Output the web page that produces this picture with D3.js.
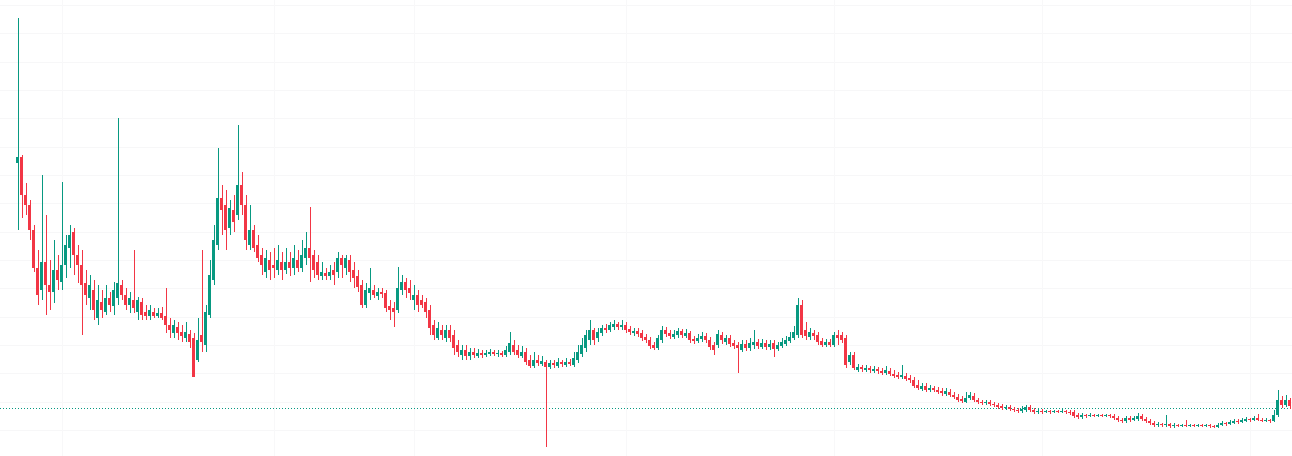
<!DOCTYPE html>
<html>
<head>
<meta charset="utf-8">
<script src="https://cdn.jsdelivr.net/npm/d3@7"></script>
<style>
  html, body { margin: 0; padding: 0; background: #ffffff; }
  svg { display: block; }
</style>
</head>
<body>
<script>
// Candle prices (arbitrary unit, x1e-6)
const opens = [337,343,305,295,270,232,210,238,215,208,230,218,235,252,268,245,235,217,202,210,182,198,188,202,194,202,215,205,195,200,188,198,188,184,188,184,187,184,175,167,173,168,162,166,162,140,165,155,185,220,255,302,295,272,290,285,315,295,255,270,255,245,228,240,235,230,238,230,238,232,240,232,242,252,245,238,224,227,224,230,228,242,232,240,230,224,215,195,207,210,204,208,207,194,192,190,210,218,212,200,205,200,198,190,175,162,170,162,170,165,155,145,150,144,148,144,147,145,146,148,146,147,145,148,155,150,144,148,140,134,140,136,138,133,137,134,138,135,138,135,140,146,152,160,170,162,167,172,170,173,176,173,175,171,167,169,167,163,160,155,152,160,170,167,163,165,169,164,167,161,159,161,164,160,155,155,165,158,162,157,155,150,156,152,155,158,153,157,153,157,151,154,156,159,162,165,195,170,163,167,165,159,155,158,155,165,165,162,138,145,130,133,130,132,129,131,129,127,129,126,125,123,124,122,120,115,111,114,110,112,110,109,106,108,105,103,101,98,102,104,100,98,97,98,96,95,94,92,93,91,90,89,90,93,90,88,89,88,89,88,89,88,89,88,88,85,83,85,84,85,84,85,84,85,84,82,80,79,82,80,81,84,81,79,77,75,76,75,76,74,75,74,75,74,75,74,75,74,75,74,73,75,77,76,77,79,78,79,81,80,82,80,79,80,79,85,100,95,100];
const highs = [482,345,317,300,275,250,325,285,240,260,245,318,265,275,272,255,250,230,225,220,215,210,215,208,218,382,220,212,208,250,203,202,195,195,192,192,193,212,182,180,178,175,178,170,167,182,250,195,240,275,352,315,310,300,305,375,328,305,295,275,265,252,250,248,252,255,248,252,248,255,250,260,268,293,250,245,238,232,235,238,248,245,245,245,238,230,220,217,232,215,212,212,210,200,198,233,225,222,220,215,210,205,202,195,180,178,175,175,175,170,160,155,155,152,152,151,150,150,151,150,150,149,154,168,160,155,154,152,145,148,145,144,140,140,140,142,140,142,141,148,155,162,170,180,172,172,175,176,178,180,178,180,178,174,172,172,170,166,163,158,165,174,173,170,170,172,171,171,169,164,166,168,167,163,158,170,168,165,165,160,158,160,160,162,170,161,161,160,160,160,158,162,164,168,174,202,200,178,172,170,168,162,161,161,168,170,168,165,148,148,136,135,135,134,134,133,132,134,132,130,128,135,127,125,123,120,117,117,115,114,113,112,112,111,108,106,104,108,108,107,102,100,100,100,98,97,96,95,95,93,92,94,95,95,92,91,91,90,90,90,90,91,90,90,90,87,87,86,87,86,86,86,86,86,86,84,82,84,84,84,87,86,83,81,79,78,77,85,77,77,76,76,80,76,76,76,76,76,76,75,77,79,78,80,81,81,82,83,82,84,86,82,82,81,90,110,104,105,102];
const lows = [270,282,285,260,228,195,200,185,190,197,210,210,222,232,225,217,165,195,190,180,175,182,185,188,185,195,200,190,187,187,180,180,180,180,182,182,180,167,162,162,160,158,158,152,123,138,148,148,182,215,250,265,250,265,268,280,285,250,250,248,238,225,222,220,222,225,220,226,224,225,228,228,235,218,222,220,220,220,220,215,222,222,225,218,212,208,192,192,200,202,200,202,188,180,173,187,205,202,200,190,188,192,182,165,160,160,160,158,158,145,143,140,140,140,142,142,142,143,144,144,143,143,143,145,145,142,142,135,132,132,134,134,53,131,132,132,133,133,134,133,137,143,148,155,155,158,164,167,168,170,170,170,167,165,164,163,159,157,151,150,150,157,163,161,161,162,162,162,157,156,157,158,157,150,145,152,156,155,153,151,127,148,149,149,151,151,151,150,150,143,149,152,154,157,160,162,162,160,160,160,155,153,153,153,153,155,157,132,135,130,128,128,128,127,127,126,125,125,124,122,121,121,119,117,112,110,109,108,108,108,106,104,104,103,101,98,97,97,100,98,96,95,95,94,93,91,90,90,89,88,87,87,88,88,86,86,86,87,86,87,87,87,86,85,82,81,81,82,83,83,83,83,83,82,80,78,77,77,78,79,79,79,77,75,73,73,73,73,72,72,73,73,73,73,73,73,73,73,72,72,72,74,74,75,76,76,77,78,78,79,79,78,78,77,78,83,92,93,91];
const closes = [343,305,295,270,232,205,238,215,208,230,220,235,255,265,245,235,215,205,215,190,200,190,202,195,210,217,205,195,202,192,200,185,184,190,184,187,182,175,170,175,167,164,168,158,123,160,158,188,225,260,302,290,270,292,278,315,295,260,270,252,242,235,242,230,232,240,230,238,232,242,232,245,252,242,230,225,228,224,228,225,242,235,242,228,222,213,195,210,212,205,208,206,192,190,188,212,218,210,207,205,195,195,188,172,165,172,165,170,162,152,148,150,144,148,145,147,145,147,148,146,147,145,150,157,148,145,148,138,134,140,137,139,133,137,135,138,136,138,136,142,148,155,165,170,160,168,172,170,175,176,173,175,170,168,169,166,162,160,154,152,162,170,166,164,166,169,165,167,160,159,162,164,160,153,150,166,160,162,156,154,152,156,152,157,158,154,157,153,156,151,155,158,160,163,168,195,165,164,168,164,158,155,158,155,165,162,160,135,145,132,133,131,132,130,131,129,127,130,126,124,123,125,121,120,114,112,114,110,112,110,108,107,109,105,103,100,99,102,105,100,98,97,98,96,95,93,92,93,91,90,89,91,93,90,88,89,88,89,88,89,88,89,88,87,84,83,85,84,85,84,85,84,85,84,82,80,79,82,80,82,84,81,79,77,75,76,75,76,74,75,74,75,74,75,74,75,74,75,74,73,75,77,76,78,79,78,80,81,80,82,80,79,80,79,85,100,95,100,94];

// Faint grid levels (price) and grid candle positions (index)
const gridPrices = [495,467,438,410,382,353,325,297,268,240,212,183,155,127,98,70];
const gridIndex = [11,64,99,152,204,256,308];
const refPrice = 92;

const W = 1292, H = 456;
const upColor = "#089981", downColor = "#f23645";

const svg = d3.select("body").append("svg").attr("width", W).attr("height", H);

const idx = d3.range(closes.length);
const x = d3.scaleBand().domain(idx).range([16, 16 + closes.length * 4]).paddingInner(0.25).paddingOuter(0.125);
const y = d3.scaleLinear().domain([44, 500]).range([H, 0]);

// grid
svg.append("g").selectAll("line").data(gridPrices).join("line")
  .attr("x1", 0).attr("x2", W)
  .attr("y1", d => Math.round(y(d)) + 0.5).attr("y2", d => Math.round(y(d)) + 0.5)
  .attr("stroke", "#f7f7f8").attr("stroke-width", 1);
svg.append("g").selectAll("line").data(gridIndex).join("line")
  .attr("y1", 0).attr("y2", H)
  .attr("x1", d => Math.round(x(d) + x.bandwidth() / 2) + 0.5)
  .attr("x2", d => Math.round(x(d) + x.bandwidth() / 2) + 0.5)
  .attr("stroke", "#f8f8f9").attr("stroke-width", 1);

// reference dotted line
svg.append("line")
  .attr("x1", 0).attr("x2", W)
  .attr("y1", Math.round(y(refPrice)) + 0.5).attr("y2", Math.round(y(refPrice)) + 0.5)
  .attr("stroke", upColor).attr("stroke-width", 1).attr("stroke-dasharray", "1,2");

const candles = idx.map(i => ({ i, o: opens[i], h: highs[i], l: lows[i], c: closes[i] }));
const col = d => d.c >= d.o ? upColor : downColor;

const g = svg.append("g");
g.selectAll("line.wick").data(candles).join("line")
  .attr("class", "wick")
  .attr("x1", d => Math.floor(x(d.i) + x.bandwidth() / 2) + 0.5)
  .attr("x2", d => Math.floor(x(d.i) + x.bandwidth() / 2) + 0.5)
  .attr("y1", d => y(d.h)).attr("y2", d => y(d.l))
  .attr("stroke", col).attr("stroke-width", 1);

g.selectAll("rect.body").data(candles).join("rect")
  .attr("class", "body")
  .attr("x", d => Math.floor(x(d.i)))
  .attr("width", 3)
  .attr("y", d => y(Math.max(d.o, d.c)))
  .attr("height", d => Math.max(1, Math.abs(y(d.o) - y(d.c))))
  .attr("fill", col)
  .attr("shape-rendering", "crispEdges");
</script>
</body>
</html>
